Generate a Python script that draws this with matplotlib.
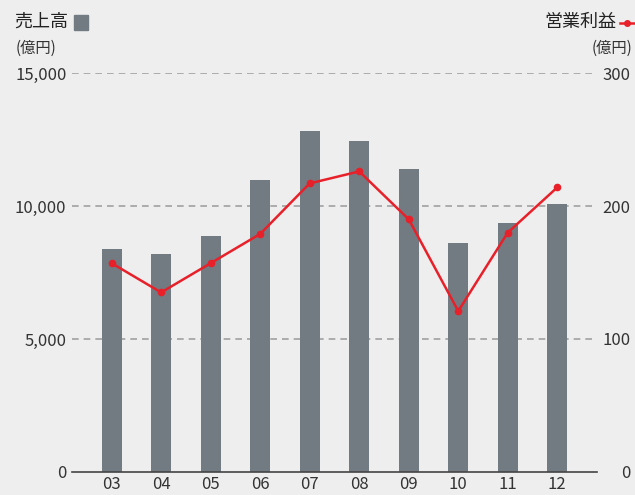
import numpy as np
import matplotlib.pyplot as plt
from matplotlib.patches import Rectangle
from matplotlib.lines import Line2D

plt.rcParams['font.family'] = ['Noto Sans CJK JP', 'DejaVu Sans']

years = ["03", "04", "05", "06", "07", "08", "09", "10", "11", "12"]
sales = [8380, 8200, 8870, 10980, 12820, 12440, 11390, 8610, 9360, 10080]
op_profit = [157, 135, 157, 179, 217, 226, 190, 121, 180, 214]

bg = "#eeeeee"
bar_col = "#717b81"
red = "#e8202a"
txt = "#333333"

fig = plt.figure(figsize=(6.35, 4.95), dpi=100, facecolor=bg)
ax = fig.add_axes([0.1134, 0.0465, 0.8266, 0.806], facecolor=bg)
x = np.arange(len(years))

ax.bar(x, sales, width=0.4, color=bar_col, zorder=2)
ax.set_ylim(0, 15000)
ax.set_xlim(-0.8, len(years) - 0.2)
ax.set_yticks([0, 5000, 10000, 15000])
ax.set_yticklabels(["0", "5,000", "10,000", "15,000"])
for v in [5000, 10000, 15000]:
    ax.axhline(v, color="#a0a0a0", lw=1.2, ls=(0, (4, 3)), zorder=1)
ax.set_xticks(x)
ax.set_xticklabels(years)
ax.tick_params(axis="both", length=0, labelsize=12, colors=txt)
ax.tick_params(axis="y", pad=4)
ax.tick_params(axis="x", pad=3)
for s in ["top", "left", "right"]:
    ax.spines[s].set_visible(False)
ax.spines["bottom"].set_color("#444444")
ax.spines["bottom"].set_linewidth(1.2)

ax2 = ax.twinx()
ax2.plot(x, op_profit, color=red, lw=1.8, marker="o", ms=4.5, zorder=3)
ax2.set_ylim(0, 300)
ax2.set_yticks([0, 100, 200, 300])
ax2.tick_params(axis="y", length=0, labelsize=12, colors=txt, pad=24)
for lab in ax2.get_yticklabels():
    lab.set_horizontalalignment("right")
for s in ["top", "left", "right", "bottom"]:
    ax2.spines[s].set_visible(False)

# titles / units
fig.text(14 / 635, 1 - 22 / 495, "売上高", fontsize=13, color="#222222", va="center", ha="left")
fig.patches.append(Rectangle((74 / 635, 1 - 30 / 495), 14 / 635, 15 / 495,
                             transform=fig.transFigure, color=bar_col))
fig.text(16 / 635, 1 - 48 / 495, "(億円)", fontsize=11, color=txt, va="center", ha="left")

fig.text(616 / 635, 1 - 22 / 495, "営業利益", fontsize=13, color="#222222", va="center", ha="right")
fig.lines.append(Line2D([620 / 635, 634 / 635], [1 - 23 / 495, 1 - 23 / 495],
                        transform=fig.transFigure, color=red, lw=1.8))
fig.lines.append(Line2D([627 / 635], [1 - 23 / 495], transform=fig.transFigure,
                        color=red, marker="o", ms=4))
fig.text(632 / 635, 1 - 48 / 495, "(億円)", fontsize=11, color=txt, va="center", ha="right")

fig.savefig("out.png", dpi=100, facecolor=bg)
